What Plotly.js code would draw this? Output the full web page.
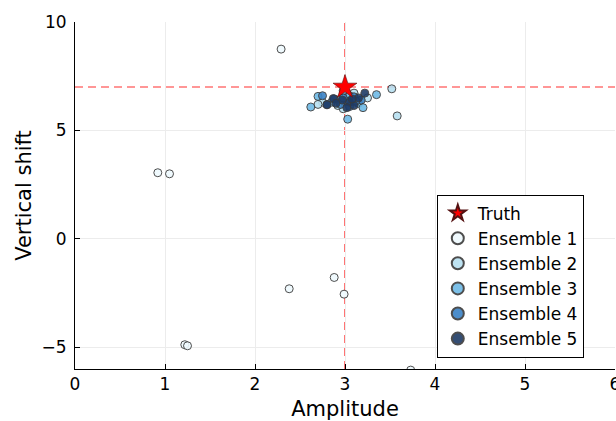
<!DOCTYPE html>
<html>
<head>
<meta charset="utf-8">
<script src="https://cdn.plot.ly/plotly-3.0.1.min.js"></script>
<style>html,body{margin:0;padding:0;background:#fff;}#chart{width:616px;height:421px;}</style>
</head>
<body>
<div id="chart"></div>
<script>
// Truth
const truthX = [3.0];
const truthY = [7.0];

// Ensemble members (amplitude, vertical shift)
const ens1X = [2.29, 0.92, 1.05, 1.22, 1.25, 2.38, 2.88, 2.99, 3.73];
const ens1Y = [8.75, 3.05, 3.00, -4.88, -4.93, -2.30, -1.78, -2.55, -6.05];

const ens2X = [3.52, 3.58, 2.98, 3.12, 2.75, 3.10, 2.92, 3.25, 2.70, 3.05];
const ens2Y = [6.92, 5.67, 6.00, 6.30, 6.30, 6.72, 6.15, 6.50, 6.20, 6.55];

const ens3X = [2.62, 3.03, 3.35, 2.98, 2.70, 2.95, 3.15, 2.85, 3.05, 3.20];
const ens3Y = [6.08, 5.52, 6.65, 6.83, 6.57, 6.45, 6.25, 6.30, 6.60, 6.05];

const ens4X = [2.75, 2.88, 3.02, 3.10, 2.95, 3.18, 2.80, 3.05, 3.12, 2.98];
const ens4Y = [6.60, 6.45, 6.35, 6.55, 6.20, 6.40, 6.20, 6.10, 6.35, 6.50];

const ens5X = [2.80, 2.87, 3.22, 3.05, 3.10, 2.97, 3.15, 3.02, 2.90, 3.08];
const ens5Y = [6.18, 6.47, 6.72, 6.30, 6.15, 6.40, 6.50, 6.05, 6.25, 6.45];

const ensNames = ["Ensemble 1", "Ensemble 2", "Ensemble 3", "Ensemble 4", "Ensemble 5"];
const ensColors = ["#effafe", "#b8e0f1", "#6ebae6", "#3a82c6", "#1f3b66"];

const xTicks = [0, 1, 2, 3, 4, 5, 6];
const yTicks = [-5, 0, 5, 10];

const ensX = [ens1X, ens2X, ens3X, ens4X, ens5X];
const ensY = [ens1Y, ens2Y, ens3Y, ens4Y, ens5Y];

const traces = [];
for (let i = 0; i < 5; i++) {
  traces.push({
    x: ensX[i], y: ensY[i], type: 'scatter', mode: 'markers', name: ensNames[i],
    legendrank: 10 + i,
    marker: {size: 8, color: ensColors[i], opacity: 0.9, line: {color: '#3a3a3a', width: 1}}
  });
}
traces.push({
  x: truthX, y: truthY, type: 'scatter', mode: 'markers', name: 'Truth',
  legendrank: 1,
  marker: {symbol: 'star', size: 18, color: '#ff0000', line: {color: '#551111', width: 0.6}}
});

const font = {family: 'DejaVu Sans, sans-serif', color: '#000'};
const layout = {
  width: 616, height: 421,
  margin: {l: 75, r: 1, t: 22, b: 52},
  paper_bgcolor: '#fff', plot_bgcolor: '#fff',
  font: font,
  showlegend: true,
  legend: {
    x: 0.67, y: 0.033, xanchor: 'left', yanchor: 'bottom',
    bgcolor: '#fff', bordercolor: '#000', borderwidth: 1,
    font: {family: 'DejaVu Sans, sans-serif', size: 17, color: '#000'},
    itemsizing: 'constant', tracegroupgap: 0
  },
  xaxis: {
    range: [0, 6], tickvals: xTicks, ticktext: xTicks.map(String),
    showline: true, linecolor: '#000', linewidth: 1, mirror: false,
    ticks: 'inside', ticklen: 5, tickcolor: '#000',
    showgrid: true, gridcolor: '#ececec', gridwidth: 1, zeroline: false,
    tickfont: {size: 17}, ticklabeloverflow: 'allow',
    title: {text: 'Amplitude', font: {size: 21}, standoff: 7}
  },
  yaxis: {
    range: [-6, 10], tickvals: yTicks,
    showline: true, linecolor: '#000', linewidth: 1, mirror: false,
    ticks: 'inside', ticklen: 5, tickcolor: '#000',
    showgrid: true, gridcolor: '#ececec', gridwidth: 1, zeroline: false,
    tickfont: {size: 17}, ticklabelstandoff: 4,
    title: {text: 'Vertical shift', font: {size: 21}, standoff: 4}
  },
  shapes: [
    {type: 'line', xref: 'x', yref: 'paper', x0: truthX[0], x1: truthX[0], y0: 0, y1: 1,
     line: {color: 'rgba(255,0,0,0.55)', width: 2, dash: '8px,5px'}, layer: 'between'},
    {type: 'line', xref: 'paper', yref: 'y', x0: 0, x1: 1, y0: truthY[0], y1: truthY[0],
     line: {color: 'rgba(255,0,0,0.55)', width: 1.5, dash: '8px,5px'}, layer: 'between'}
  ]
};

Plotly.newPlot('chart', traces, layout, {staticPlot: true, displayModeBar: false});
</script>
</body>
</html>
